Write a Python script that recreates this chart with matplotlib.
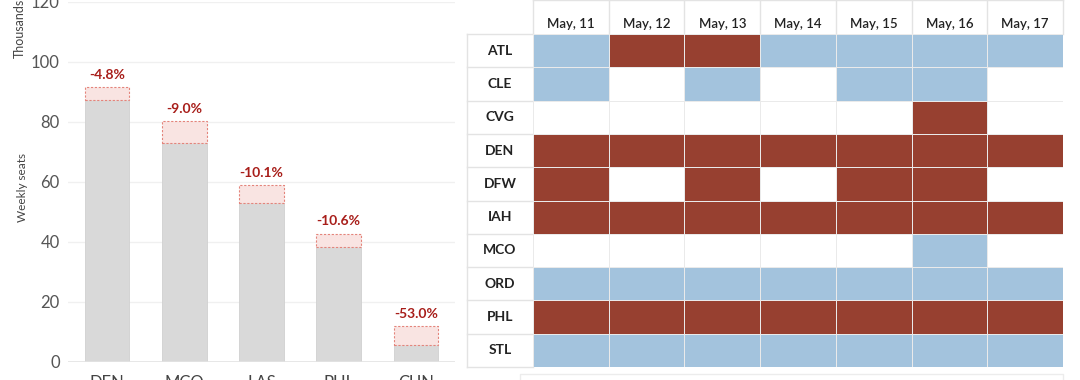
import numpy as np
import matplotlib
matplotlib.use("Agg")
from matplotlib import pyplot as plt
from matplotlib.colors import ListedColormap
from matplotlib.patches import Rectangle

plt.rcParams["font.family"] = ["Lato", "DejaVu Sans"]

# bar chart data (thousands of weekly seats)
airports = ["DEN", "MCO", "LAS", "PHL", "CUN"]
seats_now = [87.3, 73.1, 53.0, 38.2, 5.65]
seats_before = [91.7, 80.3, 59.0, 42.8, 12.0]
change_labels = ["-4.8%", "-9.0%", "-10.1%", "-10.6%", "-53.0%"]

# heatmap data: 0 = none, 1 = increase (blue), 2 = cut (red)
days = ["May, 11", "May, 12", "May, 13", "May, 14", "May, 15", "May, 16", "May, 17"]
hubs = ["ATL", "CLE", "CVG", "DEN", "DFW", "IAH", "MCO", "ORD", "PHL", "STL"]
status = [
    [1, 2, 2, 1, 1, 1, 1],
    [1, 0, 1, 0, 1, 1, 0],
    [0, 0, 0, 0, 0, 2, 0],
    [2, 2, 2, 2, 2, 2, 2],
    [2, 0, 2, 0, 2, 2, 0],
    [2, 2, 2, 2, 2, 2, 2],
    [0, 0, 0, 0, 0, 1, 0],
    [1, 1, 1, 1, 1, 1, 1],
    [2, 2, 2, 2, 2, 2, 2],
    [1, 1, 1, 1, 1, 1, 1],
]

W, H = 1080, 380
fig = plt.figure(figsize=(W / 100, H / 100), dpi=100)


def px_axes(x0, y0, x1, y1):
    # pixel box (top-left origin) -> figure axes
    return fig.add_axes([x0 / W, 1 - y1 / H, (x1 - x0) / W, (y1 - y0) / H])


# ---- left: bar chart ----
ax = px_axes(68, 2, 455, 362)
x = np.arange(len(airports))
ax.bar(x, seats_now, width=0.58, color="#d9d9d9", edgecolor="#d0d0d0", linewidth=0.6, zorder=2)
lost = [b - n for b, n in zip(seats_before, seats_now)]
ax.bar(x, lost, bottom=seats_now, width=0.58, color="#f9e4e2", edgecolor="#e4847b",
       linewidth=0.8, linestyle=(0, (2, 1.5)), zorder=3)
for xi, top, lab in zip(x, seats_before, change_labels):
    ax.annotate(lab, (xi, top), xytext=(0, 4.5), textcoords="offset points", ha="center",
                va="bottom", color="#a81e1a", fontsize=10, fontweight="bold")
ax.set_xlim(-0.505, 4.505)
ax.set_ylim(0, 120)
ax.set_yticks(range(0, 121, 20))
ax.set_xticks(x)
ax.set_xticklabels(airports)
ax.tick_params(axis="y", length=0, pad=6, labelsize=12, labelcolor="#555555")
ax.tick_params(axis="x", length=0, pad=9, labelsize=12, labelcolor="#444444")
ax.grid(axis="y", color="#f0f0f0", linewidth=1, zorder=0)
for s in ax.spines.values():
    s.set_visible(False)
ax.axhline(0, color="#e3e3e3", linewidth=1.2, zorder=4)
fig.text(20 / W, 1 - 28 / H, "Thousands", rotation=90, ha="center", va="center",
         fontsize=9, color="#444444")
fig.text(22 / W, 1 - 188 / H, "Weekly seats", rotation=90, ha="center", va="center",
         fontsize=8.5, color="#444444")

# ---- right: schedule heatmap ----
tx = px_axes(533, 34, 1063, 367)
cmap = ListedColormap(["#ffffff", "#a3c3dd", "#974030"])
tx.pcolormesh(np.array(status), cmap=cmap, vmin=0, vmax=2, edgecolors="#eaeaea", linewidth=0.7)
tx.set_xlim(0, len(days))
tx.set_ylim(len(hubs), 0)
tx.axis("off")

col_w = (1063 - 533) / len(days)
row_h = (367 - 34) / len(hubs)
left = -(533 - 467) / col_w
top = -34 / row_h
line_kw = dict(color="#e3e3e3", linewidth=1, clip_on=False, zorder=0)
for i in range(len(hubs) + 1):
    tx.plot([left, 0], [i, i], **line_kw)
tx.plot([0, len(days)], [top, top], **line_kw)
for j in range(len(days) + 1):
    tx.plot([j, j], [top, 0], **line_kw)
tx.plot([left, left], [0, len(hubs)], **line_kw)

for j, d in enumerate(days):
    tx.text(j + 0.5, -0.3, d, ha="center", va="center", fontsize=9.5,
            fontweight="semibold", color="#222222", clip_on=False)
for i, h in enumerate(hubs):
    tx.text(left / 2, i + 0.5, h, ha="center", va="center", fontsize=10,
            fontweight="bold", color="#222222", clip_on=False)

# faint box below the table (cut off by the frame)
fig.patches.append(Rectangle((520 / W, -0.05), (1063 - 520) / W, (0.05 + 1 - 374 / H),
                             transform=fig.transFigure, facecolor="none",
                             edgecolor="#ececec", linewidth=1))

fig.savefig("out.png", dpi=100, facecolor="white")
